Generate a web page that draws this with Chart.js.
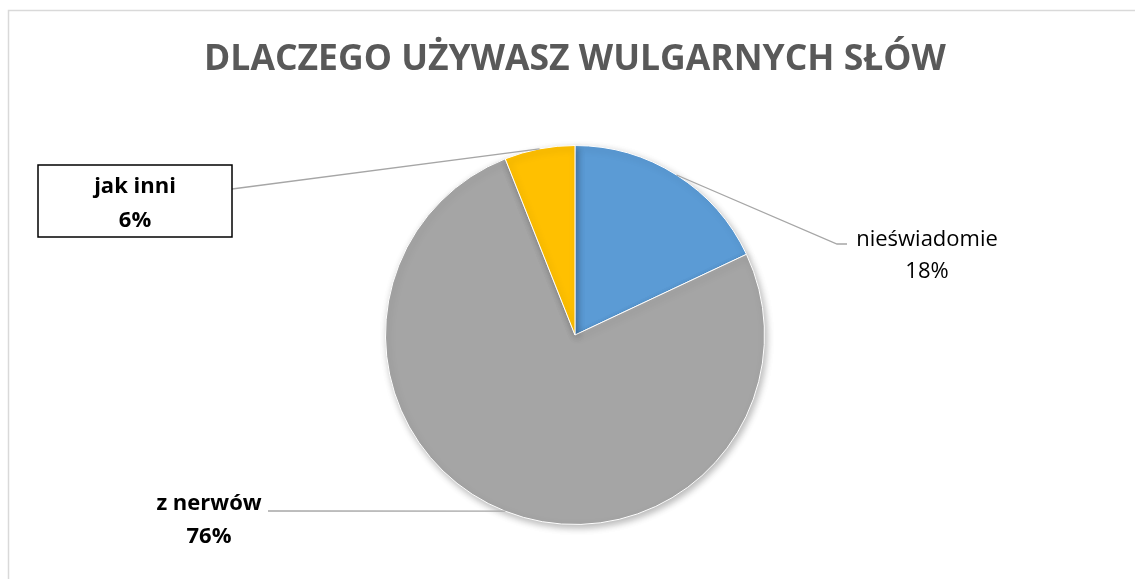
<!DOCTYPE html>
<html>
<head>
<meta charset="utf-8">
<script src="https://cdn.jsdelivr.net/npm/chart.js@4.4.0/dist/chart.umd.min.js"></script>
<style>
  html, body { margin: 0; padding: 0; background: #fff; }
  canvas { display: block; }
</style>
</head>
<body>
<canvas id="chart" width="1135" height="579"></canvas>
<script>
// data
var categories = ['nieświadomie', 'z nerwów', 'jak inni'];
var percents = [18, 76, 6];
var sliceColors = ['#5B9BD5', '#A5A5A5', '#FFC000'];

// label placement, offsets from pie centre (layout only)
// dx = text centre, b1/b2 = baselines of the two lines
var labelSpots = [
  { dx: 352, b1: -89, b2: -57, bold: false, box: null, elbow: [262, -91, 272, -91] },
  { dx: -366, b1: 175, b2: 208, bold: true, box: null, elbow: [-307, 176] },
  { dx: -440, b1: -142, b2: -108, bold: true, box: [-537, -170, 194, 72], elbow: [-343, -146] }
];

var fontFam = '"Open Sans", "DejaVu Sans", sans-serif';

var frame = {
  id: 'frame',
  beforeDraw: function(chart) {
    var ctx = chart.ctx;
    ctx.save();
    ctx.fillStyle = '#fff';
    ctx.fillRect(0, 0, chart.width, chart.height);
    ctx.strokeStyle = '#d9d9d9';
    ctx.lineWidth = 1.5;
    ctx.strokeRect(8.5, 10.5, chart.width + 20, chart.height + 20);
    ctx.restore();
  }
};

var shadow = {
  id: 'shadow',
  beforeDatasetsDraw: function(chart) {
    var ctx = chart.ctx;
    ctx.save();
    ctx.shadowColor = 'rgba(0,0,0,0.28)';
    ctx.shadowBlur = 7;
    ctx.shadowOffsetX = 2;
    ctx.shadowOffsetY = 3;
  },
  afterDatasetsDraw: function(chart) {
    chart.ctx.restore();
  }
};

var leaderLabels = {
  id: 'leaderLabels',
  afterDraw: function(chart) {
    var ctx = chart.ctx;
    var meta = chart.getDatasetMeta(0);
    meta.data.forEach(function(arc, i) {
      var p = arc.getProps(['x', 'y', 'startAngle', 'endAngle', 'outerRadius'], true);
      var mid = (p.startAngle + p.endAngle) / 2;
      var ax = p.x + Math.cos(mid) * p.outerRadius;
      var ay = p.y + Math.sin(mid) * p.outerRadius;
      var s = labelSpots[i];

      ctx.save();
      ctx.strokeStyle = '#a6a6a6';
      ctx.lineWidth = 1.3;
      ctx.beginPath();
      ctx.moveTo(ax, ay);
      for (var k = 0; k < s.elbow.length; k += 2) {
        ctx.lineTo(p.x + s.elbow[k], p.y + s.elbow[k + 1]);
      }
      ctx.stroke();

      if (s.box) {
        ctx.fillStyle = '#fff';
        ctx.fillRect(p.x + s.box[0], p.y + s.box[1], s.box[2], s.box[3]);
        ctx.strokeStyle = '#000';
        ctx.lineWidth = 1.5;
        ctx.strokeRect(p.x + s.box[0], p.y + s.box[1], s.box[2], s.box[3]);
      }

      ctx.fillStyle = '#000';
      ctx.textAlign = 'center';
      ctx.textBaseline = 'alphabetic';
      ctx.font = (s.bold ? 'bold ' : '') + '22px ' + fontFam;
      ctx.fillText(categories[i], p.x + s.dx, p.y + s.b1);
      ctx.fillText(percents[i] + '%', p.x + s.dx, p.y + s.b2);
      ctx.restore();
    });
  }
};

new Chart(document.getElementById('chart'), {
  type: 'pie',
  data: {
    labels: categories,
    datasets: [{
      data: percents,
      backgroundColor: sliceColors,
      borderColor: '#fff',
      borderWidth: 1
    }]
  },
  options: {
    responsive: false,
    animation: false,
    layout: { padding: { left: 15, top: 0, right: 0, bottom: 54 } },
    plugins: {
      legend: { display: false },
      tooltip: { enabled: false },
      title: {
        display: true,
        text: 'DLACZEGO UŻYWASZ WULGARNYCH SŁÓW',
        color: '#595959',
        font: { family: fontFam, size: 35.5, weight: 'bold', lineHeight: 1.2 },
        padding: { top: 39, bottom: 63.4 }
      }
    }
  },
  plugins: [frame, shadow, leaderLabels]
});
</script>
</body>
</html>
